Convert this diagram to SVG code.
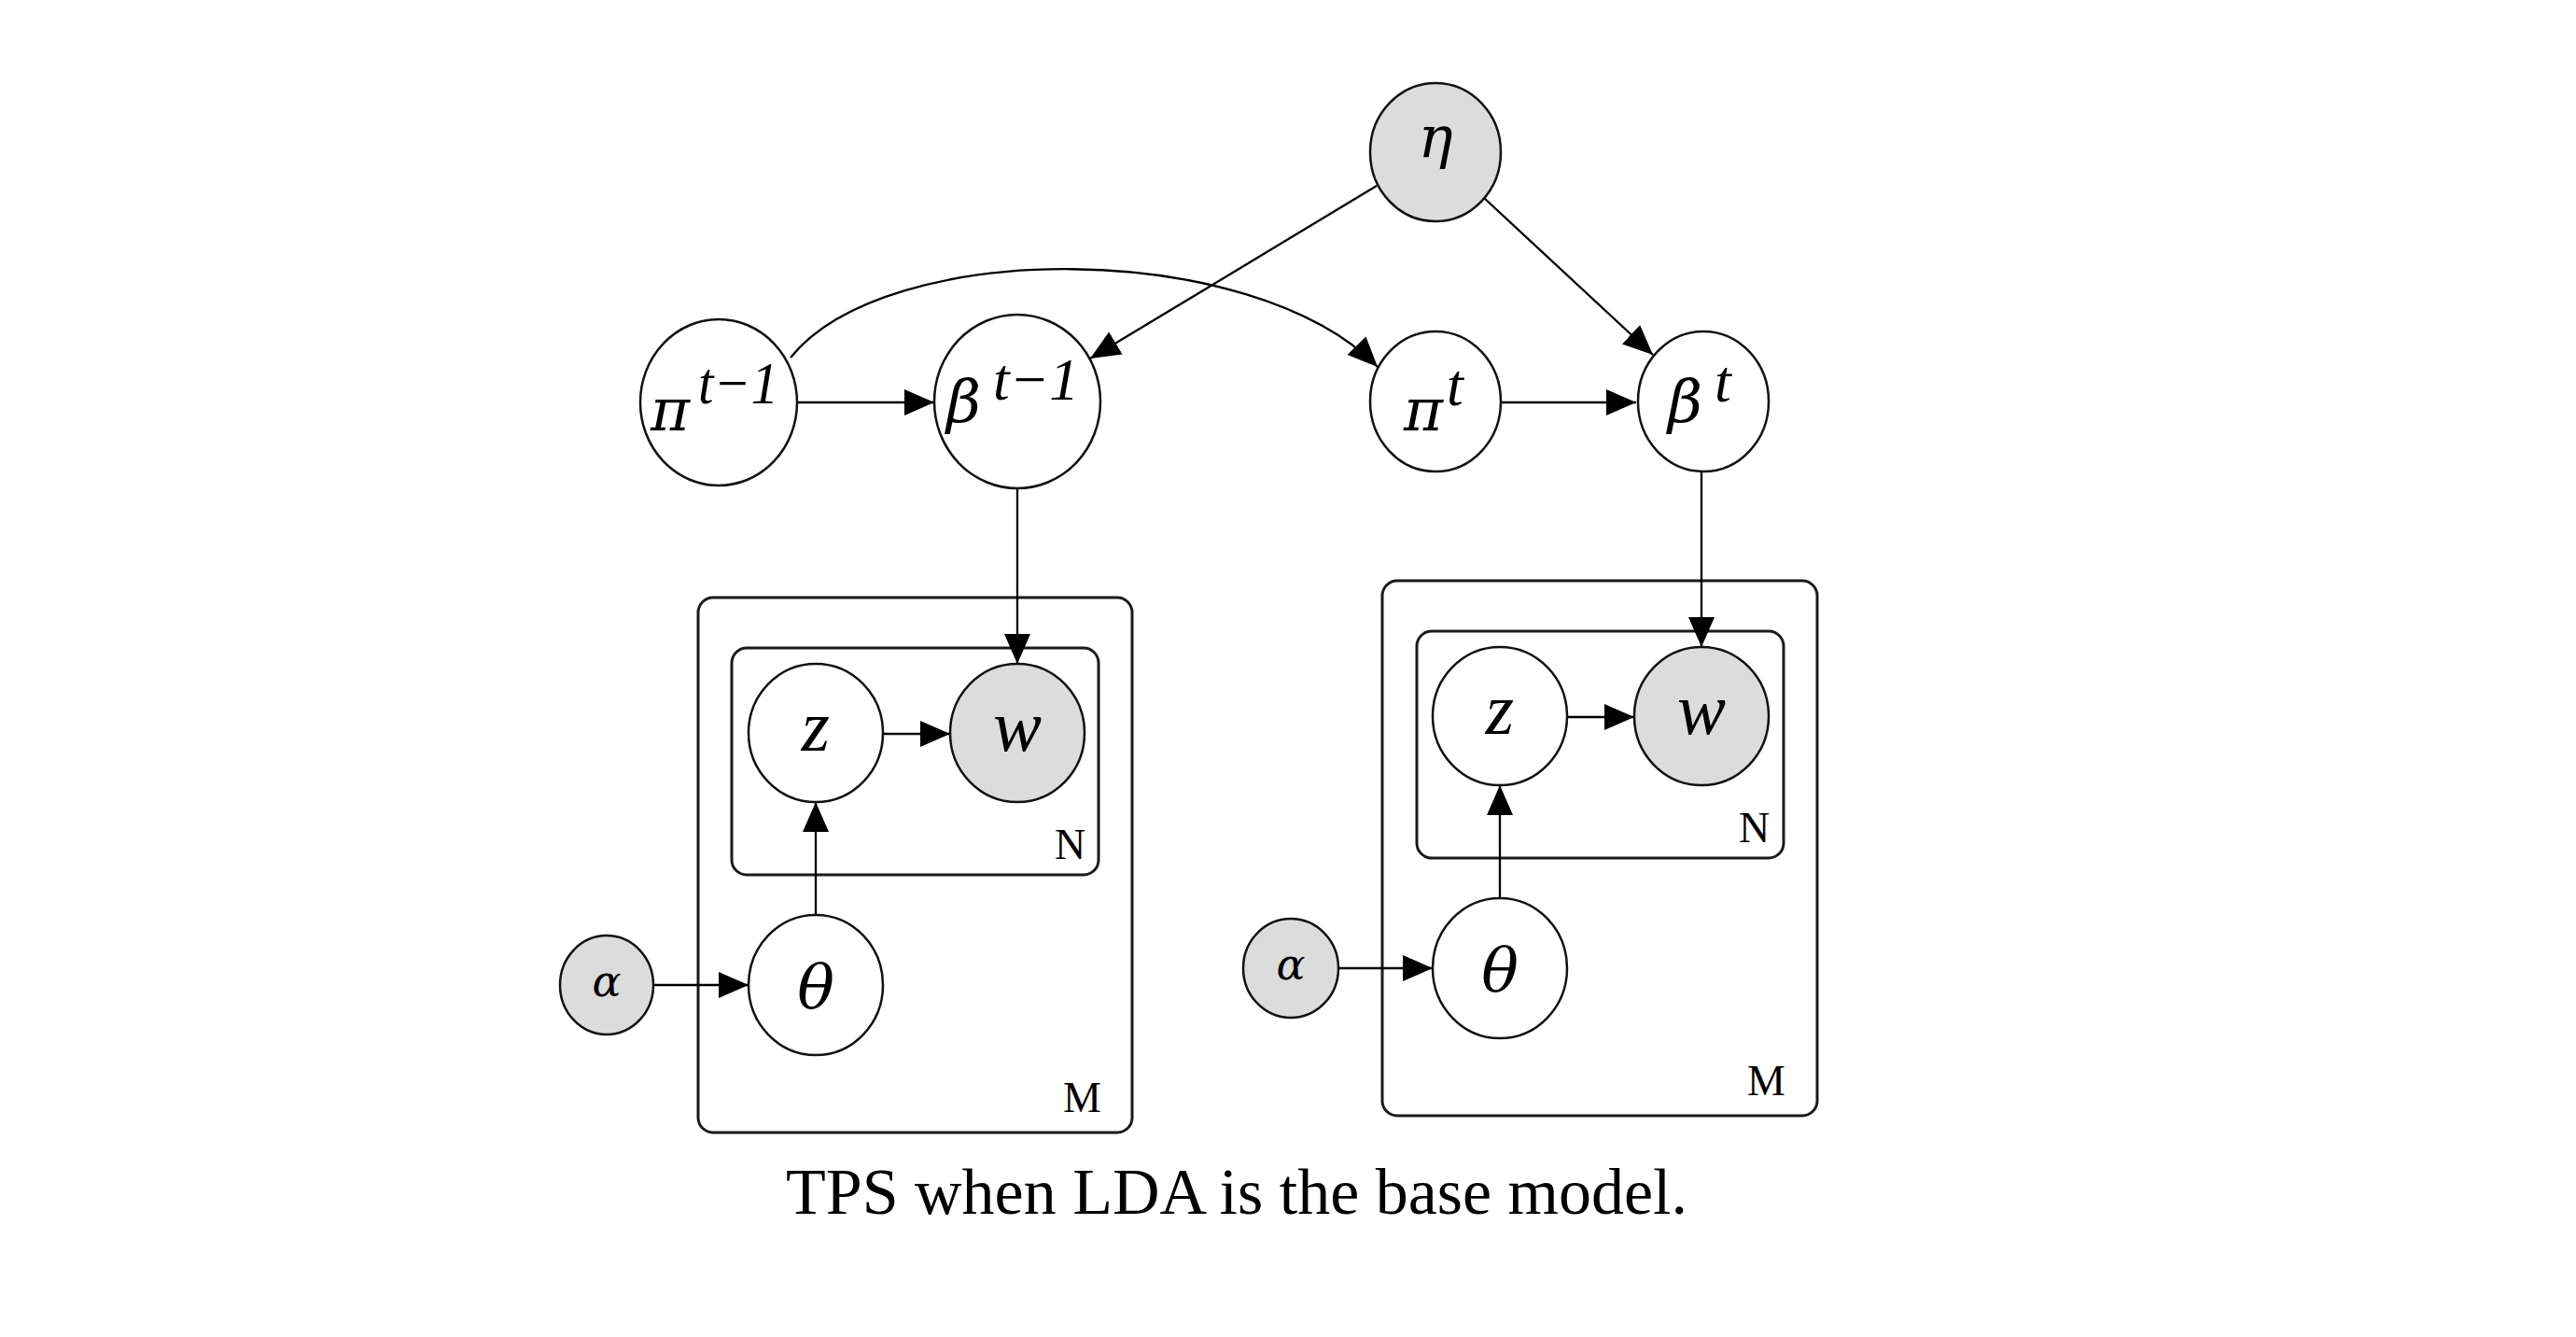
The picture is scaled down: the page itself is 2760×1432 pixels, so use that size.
<svg xmlns="http://www.w3.org/2000/svg" width="2760" height="1432" viewBox="0 0 2760 1432">
<style>
.node{stroke:#111;stroke-width:2.5;fill:#fff}
.obs{fill:#dcdcdc}
.plate{fill:none;stroke:#1a1a1a;stroke-width:3}
.edge{stroke:#000;stroke-width:2.3;fill:none;marker-end:url(#arr)}
.m{font-family:"Liberation Serif",serif;font-style:italic;fill:#000}
.g{font-family:"DejaVu Serif",serif;font-style:italic;fill:#000}
.r{font-family:"Liberation Serif",serif;fill:#000}
</style>
<defs>
<marker id="arr" markerUnits="userSpaceOnUse" markerWidth="34" markerHeight="30" viewBox="0 0 34 30" refX="32" refY="14" orient="auto">
<path d="M0,0 L32,14 L0,28 Z" fill="#000"/>
</marker>
</defs>
<rect width="2760" height="1432" fill="#fff"/>

<g id="plates">
<g id="plate-M-left"><rect class="plate" x="748" y="640" width="465" height="573" rx="16"/><text class="r" x="1139" y="1191" font-size="46">M</text></g>
<g id="plate-N-left"><rect class="plate" x="784" y="694" width="393" height="243" rx="16"/><text class="r" x="1130" y="920" font-size="46">N</text></g>
<g id="plate-M-right"><rect class="plate" x="1481" y="622" width="466" height="573" rx="16"/><text class="r" x="1872" y="1173" font-size="46">M</text></g>
<g id="plate-N-right"><rect class="plate" x="1518" y="676" width="393" height="243" rx="16"/><text class="r" x="1863" y="902" font-size="46">N</text></g>
</g>

<g id="connectors">
<path class="edge" d="M854,431 L1001,431"/>
<path class="edge" d="M1608,431 L1753,431"/>
<path class="edge" d="M1475,199 L1168,384"/>
<path class="edge" d="M1590,212 L1771,380"/>
<path class="edge" d="M847,383 C950,255 1340,255 1476,393"/>
<path class="edge" d="M1090,523 L1090,711"/>
<path class="edge" d="M946,786 L1018,786"/>
<path class="edge" d="M874,980 L874,859"/>
<path class="edge" d="M700,1055 L802,1055"/>
<path class="edge" d="M1823,505 L1823,693"/>
<path class="edge" d="M1679,768 L1751,768"/>
<path class="edge" d="M1607,962 L1607,841"/>
<path class="edge" d="M1434,1037 L1535,1037"/>
</g>

<g id="eta"><ellipse class="node obs" cx="1538" cy="163" rx="70" ry="74"/><text class="g" x="1538" y="168" font-size="62" text-anchor="middle">η</text></g>
<g id="pi-t-1"><ellipse class="node" cx="770" cy="431" rx="84" ry="89"/><text class="g" x="697" y="461" font-size="64">π</text><text class="m" x="748" y="432" font-size="64" textLength="86" lengthAdjust="spacingAndGlyphs">t−1</text></g>
<g id="beta-t-1"><ellipse class="node" cx="1090" cy="430" rx="89" ry="93"/><text class="g" x="1014" y="452" font-size="64">β</text><text class="m" x="1064" y="428" font-size="64" textLength="92" lengthAdjust="spacingAndGlyphs">t−1</text></g>
<g id="pi-t"><ellipse class="node" cx="1538" cy="430" rx="70" ry="75"/><text class="g" x="1504" y="461" font-size="64">π</text><text class="m" x="1550" y="434" font-size="64">t</text></g>
<g id="beta-t"><ellipse class="node" cx="1825" cy="430" rx="70" ry="75"/><text class="g" x="1787" y="452" font-size="64">β</text><text class="m" x="1837" y="430" font-size="64">t</text></g>

<g id="z-left"><ellipse class="node" cx="874" cy="785" rx="72" ry="74"/><text class="m" x="874" y="804" font-size="78" text-anchor="middle">z</text></g>
<g id="w-left"><ellipse class="node obs" cx="1090" cy="785" rx="72" ry="74"/><text class="m" x="1090" y="804" font-size="78" text-anchor="middle">w</text></g>
<g id="theta-left"><ellipse class="node" cx="874" cy="1055" rx="72" ry="75"/><text class="g" x="874" y="1080" font-size="66" text-anchor="middle">θ</text></g>
<g id="alpha-left"><ellipse class="node obs" cx="650" cy="1055" rx="50" ry="53"/><text class="g" x="650" y="1067" font-size="46" text-anchor="middle">α</text></g>

<g id="z-right"><ellipse class="node" cx="1607" cy="767" rx="72" ry="74"/><text class="m" x="1607" y="786" font-size="78" text-anchor="middle">z</text></g>
<g id="w-right"><ellipse class="node obs" cx="1823" cy="767" rx="72" ry="74"/><text class="m" x="1823" y="786" font-size="78" text-anchor="middle">w</text></g>
<g id="theta-right"><ellipse class="node" cx="1607" cy="1037" rx="72" ry="75"/><text class="g" x="1607" y="1062" font-size="66" text-anchor="middle">θ</text></g>
<g id="alpha-right"><ellipse class="node obs" cx="1383" cy="1037" rx="51" ry="53"/><text class="g" x="1383" y="1049" font-size="46" text-anchor="middle">α</text></g>

<text id="caption" class="r" x="842" y="1300" font-size="70" textLength="966" lengthAdjust="spacingAndGlyphs">TPS when LDA is the base model.</text>
</svg>
